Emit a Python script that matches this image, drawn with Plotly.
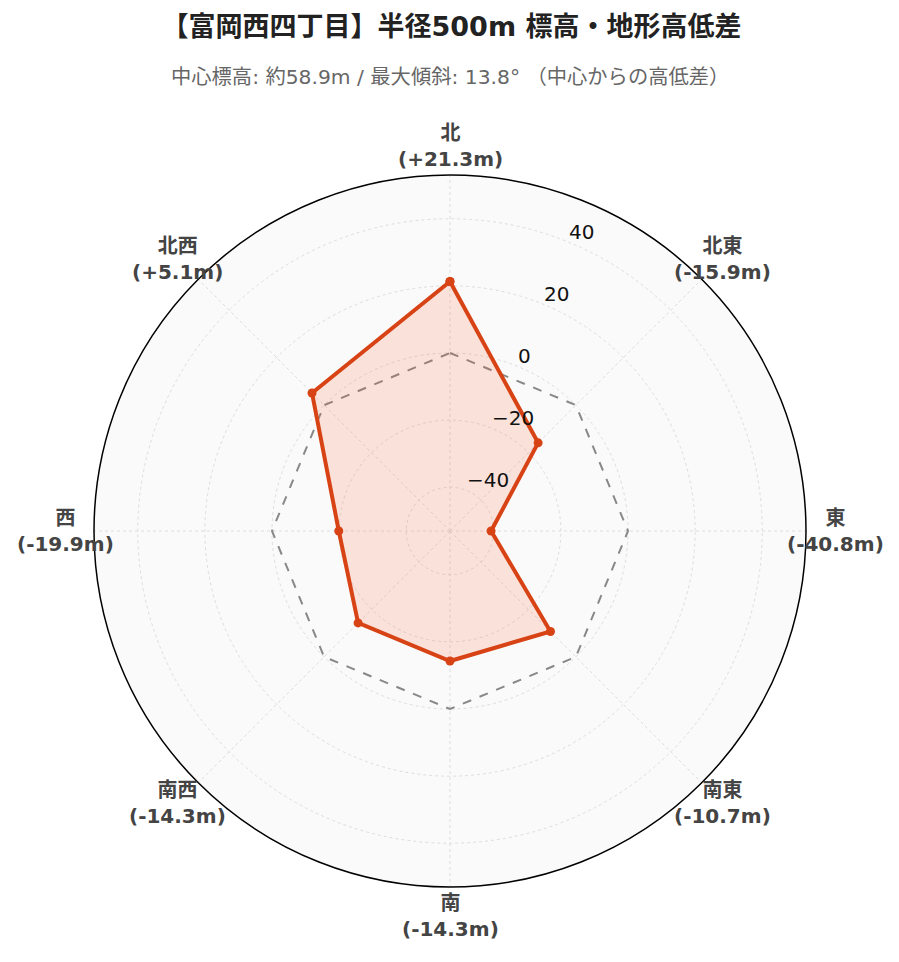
import math
import plotly.graph_objects as go

directions = ["北", "北東", "東", "南東", "南", "南西", "西", "北西"]
diffs = [21.3, -15.9, -40.8, -10.7, -14.3, -14.3, -19.9, 5.1]
baseline = [0, 0, 0, 0, 0, 0, 0, 0]
tick_vals = [-40, -20, 0, 20, 40]
tick_text = [str(v).replace("-", "\u2212") for v in tick_vals]

labels = [f"{d}<br>({v:+.1f}m)" for d, v in zip(directions, diffs)]
max_abs = max(abs(v) for v in diffs)
rng = [-max_abs * 1.3, max_abs * 1.3]

theta = directions + [directions[0]]

fig = go.Figure()
fig.add_trace(go.Scatterpolar(
    r=baseline + [baseline[0]], theta=theta, mode="lines",
    line=dict(color="#888888", width=2, dash="dash"),
    hoverinfo="skip", showlegend=False,
))
fig.add_trace(go.Scatterpolar(
    r=diffs + [diffs[0]], theta=theta, mode="lines+markers",
    line=dict(color="#d84315", width=4),
    marker=dict(color="#d84315", size=9),
    fill="toself", fillcolor="rgba(255,87,34,0.15)",
    showlegend=False,
))

W, H = 899, 962
CX, CY, R = 442, 523, 356   # polar centre / radius in figure pixels
LABEL_PAD = 29
RADIAL_ANGLE = 22.5         # degrees clockwise from north
font_family = "DejaVu Sans, Noto Sans CJK JP, sans-serif"

annotations = [dict(text="中心標高: 約58.9m / 最大傾斜: 13.8° （中心からの高低差）",
                    xref="paper", yref="paper", x=442 / W, y=1 - 69 / H,
                    xanchor="center", yanchor="middle", showarrow=False,
                    font=dict(size=20.3, color="#666"))]
# angular (direction) labels
for i, lab in enumerate(labels):
    ang = math.radians(90 - 45 * i)
    px = CX + (R + LABEL_PAD) * math.cos(ang)
    py = CY - (R + LABEL_PAD) * math.sin(ang)
    annotations.append(dict(text=f"<b>{lab}</b>", xref="paper", yref="paper",
                            x=px / W, y=1 - py / H, xanchor="center", yanchor="middle",
                            showarrow=False, font=dict(size=20, color="#444")))
# radial tick labels
for v, t in zip(tick_vals, tick_text):
    rr = (v - rng[0]) / (rng[1] - rng[0]) * R
    a = math.radians(RADIAL_ANGLE)
    px = CX + rr * math.sin(a)
    py = CY - rr * math.cos(a)
    annotations.append(dict(text=t, xref="paper", yref="paper",
                            x=(px - 2) / W, y=1 - (py - 10.5) / H,
                            xanchor="left", yanchor="middle", showarrow=False,
                            font=dict(size=20, color="#111")))

fig.update_layout(
    width=W, height=H,
    paper_bgcolor="white",
    font=dict(family=font_family, color="#222"),
    margin=dict(l=0, r=0, t=0, b=0, autoexpand=False),
    title=dict(text="<b>【富岡西四丁目】半径500m 標高・地形高低差</b>",
               x=443.5 / W, xanchor="center", y=1 - 19 / H, yanchor="middle",
               font=dict(size=27, color="#222", family=font_family)),
    annotations=annotations,
    polar=dict(
        domain=dict(x=[(CX - R) / W, (CX + R) / W], y=[1 - (CY + R) / H, 1 - (CY - R) / H]),
        bgcolor="#fafafa",
        radialaxis=dict(range=rng, tickvals=tick_vals, angle=90 - RADIAL_ANGLE,
                        showline=False, ticks="", gridcolor="#dddddd",
                        griddash="dot", showticklabels=False),
        angularaxis=dict(direction="clockwise", rotation=90,
                         showline=True, linecolor="black", linewidth=1.5,
                         gridcolor="#dddddd", griddash="dot", ticks="",
                         showticklabels=False),
    ),
)
fig.write_html("out.html")
